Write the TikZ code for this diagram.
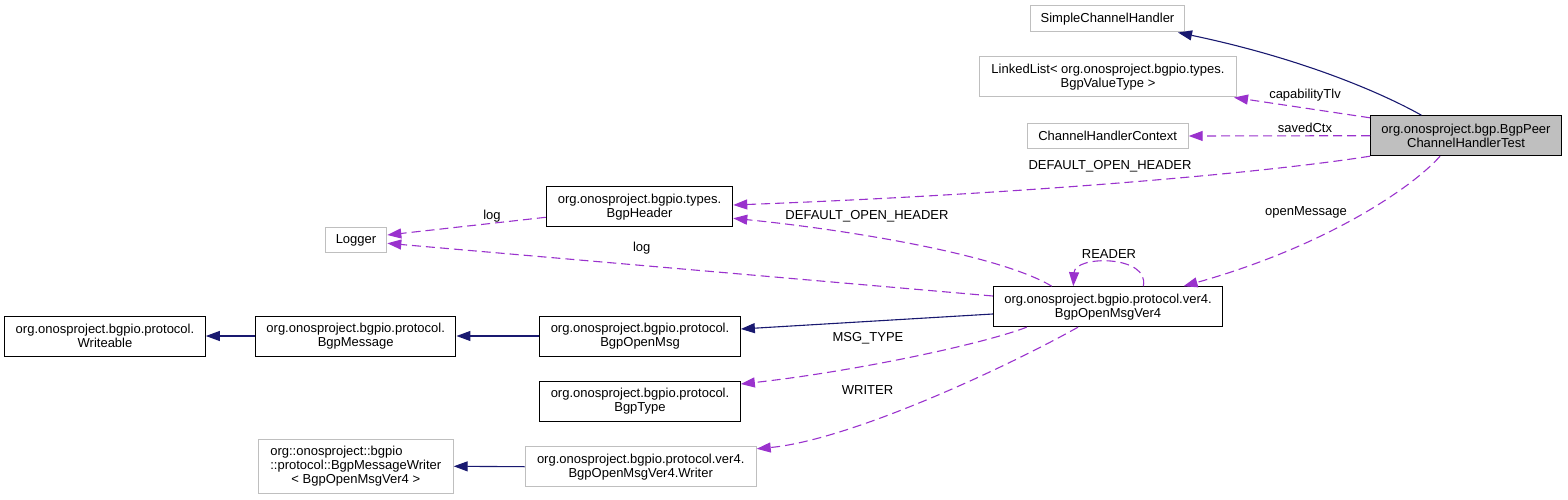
\documentclass[tikz,border=0pt]{standalone}
\usepackage{fontspec}
\setmainfont{Liberation Sans}
\usetikzlibrary{arrows.meta}
\definecolor{dep}{HTML}{9A32CD}
\definecolor{inh}{HTML}{191970}
\definecolor{gb}{HTML}{BFBFBF}
\begin{document}
\begin{tikzpicture}[x=1pt,y=-1pt,
  font=\fontsize{13}{14}\selectfont,
  cls/.style={draw, line width=1pt, inner sep=0pt, align=center, minimum height=40pt},
  doc/.style={cls, draw=black},
  undoc/.style={cls, draw=gb},
  lbl/.style={inner sep=0pt},
  inharrow/.style={draw=inh, line width=1.1pt, -{Triangle[length=14pt,width=10pt]}},
  deparrow/.style={draw=dep, line width=1.1pt, dash pattern=on 9pt off 5pt, -{Triangle[length=14pt,width=10pt]}}]
\useasboundingbox (0,0) rectangle (1568,500);
% nodes
\node[undoc, minimum width=154pt, minimum height=26pt] (sch) at (1107.5,19) {SimpleChannelHandler};
\node[undoc, minimum width=257pt] (ll) at (1108,77) {LinkedList\textless{} org.onosproject.bgpio.types.\\BgpValueType \textgreater};
\node[undoc, minimum width=161pt, minimum height=25pt] (chc) at (1107.7,136) {ChannelHandlerContext};
\node[doc, fill=gb, minimum width=191pt] (test) at (1466,135.7) {org.onosproject.bgp.BgpPeer\\ChannelHandlerTest};
\node[doc, minimum width=186.5pt] (hdr) at (639.5,206.7) {org.onosproject.bgpio.types.\\BgpHeader};
\node[undoc, minimum width=61.6pt, minimum height=25pt] (logger) at (356,240) {Logger};
\node[doc, minimum width=200.7pt] (wr) at (105,336) {org.onosproject.bgpio.protocol.\\Writeable};
\node[doc, minimum width=200.5pt] (msg) at (355.7,336) {org.onosproject.bgpio.protocol.\\BgpMessage};
\node[doc, minimum width=200.7pt] (om) at (640,336) {org.onosproject.bgpio.protocol.\\BgpOpenMsg};
\node[doc, minimum width=229.4pt] (v4) at (1108,306.7) {org.onosproject.bgpio.protocol.ver4.\\BgpOpenMsgVer4};
\node[doc, minimum width=200.7pt] (type) at (640,401) {org.onosproject.bgpio.protocol.\\BgpType};
\node[undoc, minimum width=194.8pt, minimum height=54pt] (bmw) at (355.8,466.3) {\begin{tabular}{@{}l@{}}org::onosproject::bgpio\\::protocol::BgpMessageWriter\\\multicolumn{1}{@{}c@{}}{\textless{} BgpOpenMsgVer4 \textgreater}\end{tabular}};
\node[undoc, minimum width=231pt] (writer) at (640.7,466.7) {org.onosproject.bgpio.protocol.ver4.\\BgpOpenMsgVer4.Writer};
% inheritance
\draw[inharrow] ([xshift=-44.6pt]test.north) .. controls (1380,92) and (1300,58) .. ([xshift=70.5pt]sch.south);
\draw[inharrow] ([yshift=-7.3pt]v4.west) -- ([yshift=7pt]om.east);
\draw[inharrow] (om.west) -- (msg.east);
\draw[inharrow] (msg.west) -- (wr.east);
\draw[inharrow] (writer.west) -- (bmw.east);
% usage
\draw[deparrow] ([yshift=-2.6pt]test.north west) -- ([xshift=-3pt]ll.south east);
\draw[deparrow] (test.west) -- (chc.east);
\draw[deparrow] (test.south west) .. controls (1250,175) and (1000,195) .. ([yshift=1.7pt]hdr.east);
\draw[deparrow] ([xshift=-26pt]test.south) .. controls (1415,185) and (1330,245) .. ([xshift=-39.7pt]v4.north east);
\draw[deparrow] ([yshift=-10.6pt]hdr.west) -- ([yshift=5pt]logger.east);
\draw[deparrow] ([yshift=10.7pt]v4.west) -- ([yshift=-3.3pt]logger.east);
\draw[deparrow] ([xshift=-56.3pt]v4.north) .. controls (1000,255) and (850,230) .. ([yshift=-11.6pt]hdr.east);
\draw[deparrow] ([xshift=35.3pt]v4.north) .. controls (1150,255) and (1075,255) .. ([xshift=-34.7pt]v4.north);
\draw[deparrow] ([xshift=-81.3pt]v4.south) .. controls (980,345) and (850,372) .. ([yshift=17pt]type.east);
\draw[deparrow] ([xshift=-30pt]v4.south) .. controls (1005,368) and (850,440) .. ([yshift=-2.6pt]writer.north east);
% labels
\node[lbl] (lcap) at (1305,95) {capabilityTlv};
\node[lbl] (lctx) at (1305,127.7) {savedCtx};
\node[lbl] (ldoh1) at (1110,166) {DEFAULT\_OPEN\_HEADER};
\node[lbl] (lopen) at (1306,212.7) {openMessage};
\node[lbl] (llog1) at (492,216) {log};
\node[lbl] (llog2) at (641.7,247.7) {log};
\node[lbl] (ldoh2) at (867,216.7) {DEFAULT\_OPEN\_HEADER};
\node[lbl] (lreader) at (1109,254.3) {READER};
\node[lbl] (lmsg) at (868,338.3) {MSG\_TYPE};
\node[lbl] (lwriter) at (867.5,390) {WRITER};
\end{tikzpicture}
\end{document}
